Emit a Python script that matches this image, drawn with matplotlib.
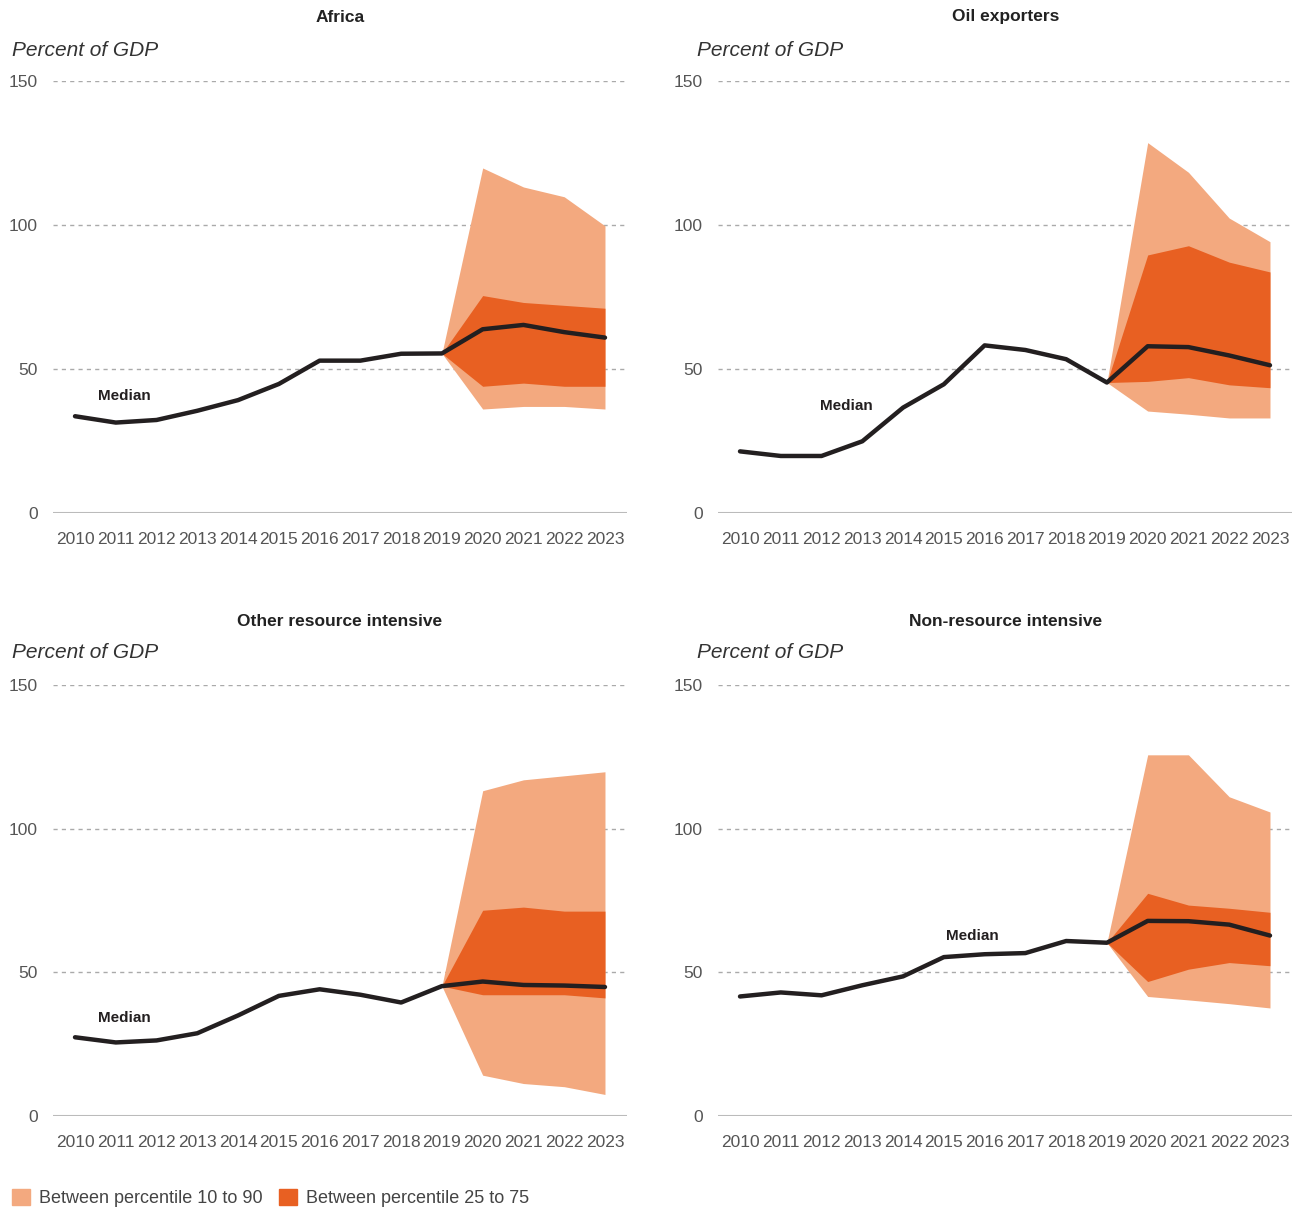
import matplotlib
matplotlib.use("Agg")
import matplotlib.pyplot as plt
from matplotlib.patches import Patch

# data (percent of GDP)
years = list(range(2010, 2024))
fan_years = years[9:]  # 2019-2023

titles = ["Africa", "Oil exporters", "Other resource intensive", "Non-resource intensive"]

africa_median = [33.6, 31.4, 32.3, 35.5, 39.2, 44.8, 52.9, 52.9, 55.3, 55.4, 63.8, 65.3, 62.8, 60.9]
africa_p10 = [55.4, 36.1, 37.0, 37.0, 36.1]
africa_p25 = [55.4, 44.0, 45.1, 44.0, 44.0]
africa_p75 = [55.4, 75.5, 73.1, 72.1, 71.1]
africa_p90 = [55.4, 119.8, 113.2, 109.8, 99.7]

oil_median = [21.4, 19.8, 19.8, 24.9, 36.6, 44.7, 58.2, 56.6, 53.4, 45.3, 57.9, 57.6, 54.7, 51.3]
oil_p10 = [45.3, 35.4, 34.3, 33.0, 33.0]
oil_p25 = [45.3, 45.7, 47.0, 44.5, 43.5]
oil_p75 = [45.3, 89.6, 92.8, 87.1, 83.7]
oil_p90 = [45.3, 128.6, 118.3, 102.4, 94.2]

other_median = [27.4, 25.6, 26.3, 28.8, 35.0, 41.8, 44.1, 42.2, 39.5, 45.2, 46.8, 45.6, 45.4, 44.9]
other_p10 = [45.2, 14.2, 11.3, 10.2, 7.5]
other_p25 = [45.2, 42.2, 42.2, 42.2, 41.1]
other_p75 = [45.2, 71.6, 72.7, 71.3, 71.3]
other_p90 = [45.2, 113.2, 117.0, 118.4, 119.8]

nonres_median = [41.6, 43.0, 42.0, 45.5, 48.6, 55.3, 56.3, 56.7, 60.9, 60.3, 67.9, 67.8, 66.6, 62.8]
nonres_p10 = [60.3, 41.6, 40.4, 39.1, 37.6]
nonres_p25 = [60.3, 46.8, 51.1, 53.4, 52.3]
nonres_p75 = [60.3, 77.5, 73.4, 72.3, 70.9]
nonres_p90 = [60.3, 125.7, 125.7, 111.1, 105.8]

yticks = [0, 50, 100, 150]

LIGHT = "#F3A97F"
DARK = "#E86022"
LINE = "#231F20"
GREY = "#555555"

plt.rcParams['font.family'] = ['Liberation Sans', 'DejaVu Sans']

W, H = 1299, 1210
fig = plt.figure(figsize=(W / 100, H / 100), dpi=100)

panels = [
    (africa_median, africa_p10, africa_p25, africa_p75, africa_p90),
    (oil_median, oil_p10, oil_p25, oil_p75, oil_p90),
    (other_median, other_p10, other_p25, other_p75, other_p90),
    (nonres_median, nonres_p10, nonres_p25, nonres_p75, nonres_p90),
]

# layout in pixels: (axes left, axes top, axes bottom, title x, title y, label x, label y)
boxes = [
    (53, 81, 513, 340, 17, 12, 50),
    (718, 81, 513, 1006, 17, 697, 50),
    (53, 685, 1116, 340, 621, 12, 653),
    (718, 685, 1116, 1006, 621, 697, 653),
]
median_pos = [(2011.2, 40.5), (2012.6, 37.2), (2011.2, 34.0), (2015.7, 62.7)]

for (med, p10, p25, p75, p90), box, title, mpos in zip(panels, boxes, titles, median_pos):
    left, top, bottom, tx, ty, lx, ly = box
    ax = fig.add_axes([left / W, 1 - bottom / H, 574 / W, (bottom - top) / H])

    ax.fill_between(fan_years, p10, p90, color=LIGHT, lw=0, zorder=2)
    ax.fill_between(fan_years, p25, p75, color=DARK, lw=0, zorder=3)
    ax.plot(years, med, color=LINE, lw=3.2, solid_capstyle='round',
            solid_joinstyle='round', zorder=4)

    ax.set_xlim(2009.46, 2023.54)
    ax.set_ylim(0, 150)
    ax.set_xticks(years)
    ax.set_xticklabels([str(y) for y in years])
    ax.set_yticks(yticks)
    ax.tick_params(length=0, labelsize=12.5, colors=GREY)
    ax.tick_params(axis='y', pad=11)
    ax.tick_params(axis='x', pad=14)
    for y in yticks[1:]:
        ax.axhline(y, color="#AAAAAA", lw=1, ls=(0, (3, 3)), zorder=1)
    ax.axhline(0, color="#BBBBBB", lw=1.5, zorder=1)
    for s in ax.spines.values():
        s.set_visible(False)
    ax.patch.set_alpha(0)

    ax.text(mpos[0], mpos[1], "Median", fontsize=11, fontweight='bold',
            color=LINE, ha='center', va='center', zorder=5)

    fig.text(tx / W, 1 - ty / H, title, fontsize=12.5, fontweight='bold',
             color="#222222", ha='center', va='center')
    fig.text(lx / W, 1 - ly / H, "Percent of GDP", fontsize=15, style='italic',
             color="#333333", ha='left', va='center')

handles = [Patch(color=LIGHT, label="Between percentile 10 to 90"),
           Patch(color=DARK, label="Between percentile 25 to 75")]
fig.legend(handles=handles, loc='center left', bbox_to_anchor=(12 / W, 1 - 1198 / H),
           ncol=2, frameon=False, fontsize=13, labelcolor="#444444", borderpad=0,
           borderaxespad=0, handlelength=1.0, handleheight=1.0, handletextpad=0.5,
           columnspacing=0.9)

fig.savefig("out.png", dpi=100)
